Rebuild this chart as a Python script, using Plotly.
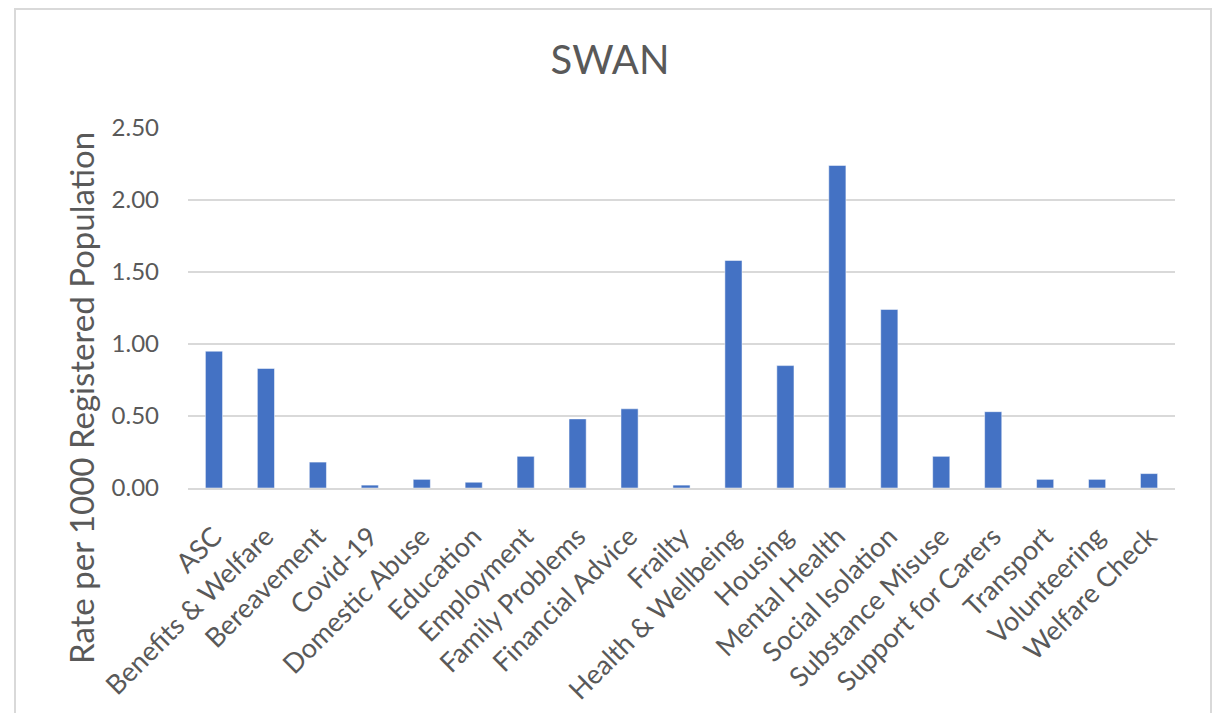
import plotly.graph_objects as go

categories = ["ASC", "Benefits & Welfare", "Bereavement", "Covid-19", "Domestic Abuse",
              "Education", "Employment", "Family Problems", "Financial Advice", "Frailty",
              "Health & Wellbeing", "Housing", "Mental Health", "Social Isolation",
              "Substance Misuse", "Support for Carers", "Transport", "Volunteering",
              "Welfare Check"]
values = [0.95, 0.83, 0.18, 0.02, 0.06, 0.04, 0.22, 0.48, 0.55, 0.02,
          1.58, 0.85, 2.24, 1.24, 0.22, 0.53, 0.06, 0.06, 0.10]
y_ticks = [0.0, 0.5, 1.0, 1.5, 2.0, 2.5]
y_tick_labels = ["0.00", "0.50", "1.00", "1.50", "2.00", "2.50"]

FONT = "Lato, 'Open Sans', sans-serif"
GREY = "#595959"

W, H = 1204, 705
L, R, T, B = 180, 37, 120, 225
PW, PH = W - L - R, H - T - B

fig = go.Figure()
fig.add_trace(go.Bar(
    x=categories, y=values,
    marker=dict(color="#4472C4", line=dict(color="#ffffff", width=0.5)),
    width=0.33,
))

fig.update_layout(
    width=W, height=H,
    margin=dict(l=L, r=R, t=T, b=B, autoexpand=False),
    paper_bgcolor="white", plot_bgcolor="white",
    showlegend=False,
    title=dict(text="SWAN", x=0.5, xanchor="center", y=1 - 52 / H, yanchor="middle",
               font=dict(family=FONT, size=40, color=GREY)),
    font=dict(family=FONT, color=GREY),
    xaxis=dict(
        tickangle=-45, tickfont=dict(family=FONT, size=27, color=GREY),
        showgrid=False, showline=True, linecolor="#d9d9d9", linewidth=2,
        ticks="", zeroline=False, ticklabelstandoff=20,
    ),
    yaxis=dict(
        range=[0, 2.5], tickvals=y_ticks, ticktext=y_tick_labels,
        tickfont=dict(family=FONT, size=24, color=GREY),
        showgrid=True, gridcolor="#d9d9d9", gridwidth=2,
        zeroline=False, showline=False, ticks="",
        ticklabelstandoff=28,
    ),
    annotations=[dict(text="Rate per 1000 Registered Population", textangle=-90,
                      xref="paper", yref="paper",
                      x=(73 - L) / PW, y=(H - B - 390) / PH,
                      xanchor="center", yanchor="middle", showarrow=False,
                      font=dict(family=FONT, size=33, color=GREY))],
    shapes=[dict(type="rect", xref="paper", yref="paper",
                 x0=(7 - L) / PW, x1=(1203 - L) / PW,
                 y0=(H - B - 730) / PH, y1=(H - B - 1) / PH,
                 line=dict(color="#d9d9d9", width=2), fillcolor="rgba(0,0,0,0)",
                 layer="below")],
)

fig.write_html("out.html")
